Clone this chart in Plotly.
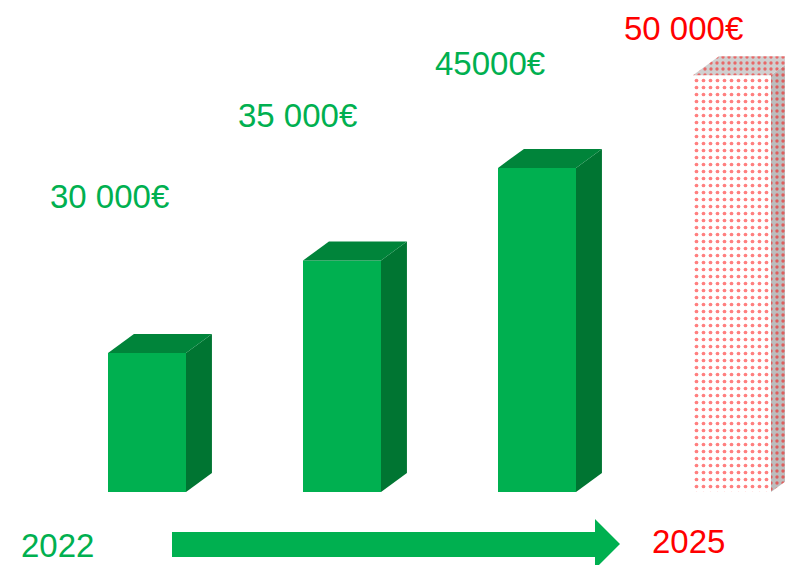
import plotly.graph_objects as go

# ---- data ----
years = ["2022", "2023", "2024", "2025"]
revenue_labels = ["30 000€", "35 000€", "45000€", "50 000€"]
bar_heights = [1.5, 2.5, 3.5, 4.5]      # visual bar heights
is_forecast = [False, False, False, True]

# ---- style ----
GREEN = "#00B050"
GREEN_TOP = "#00843A"
GREEN_SIDE = "#007532"
RED = "#FF0000"
FONT = "Liberation Sans"
W, H = 785, 565

xpos = list(range(len(years)))
bar_w = 0.4
dx, dy = 0.133, 0.205   # 3D depth offsets (data units)

fig = go.Figure()

# 3D side and top faces computed from the data
for i, (x, h, fc) in enumerate(zip(xpos, bar_heights, is_forecast)):
    xl, xr = x - bar_w / 2, x + bar_w / 2
    side_x = [xr, xr + dx, xr + dx, xr, xr]
    side_y = [0, dy, h + dy, h, 0]
    top_x = [xl, xl + dx, xr + dx, xr, xl]
    top_y = [h, h + dy, h + dy, h, h]
    if fc:
        fig.add_trace(go.Scatter(x=side_x, y=side_y, fill="toself", mode="lines",
                                 line=dict(width=0), fillcolor="#bdbdbd",
                                 fillpattern=dict(shape=".", fgcolor=RED, bgcolor="#bdbdbd",
                                                  size=6, solidity=0.25),
                                 hoverinfo="skip", showlegend=False))
        fig.add_trace(go.Scatter(x=top_x, y=top_y, fill="toself", mode="lines",
                                 line=dict(width=0), fillcolor="#d0d0d0",
                                 fillpattern=dict(shape=".", fgcolor=RED, bgcolor="#d0d0d0",
                                                  size=6, solidity=0.25),
                                 hoverinfo="skip", showlegend=False))
    else:
        fig.add_trace(go.Scatter(x=side_x, y=side_y, fill="toself", mode="lines",
                                 line=dict(width=0), fillcolor=GREEN_SIDE,
                                 hoverinfo="skip", showlegend=False))
        fig.add_trace(go.Scatter(x=top_x, y=top_y, fill="toself", mode="lines",
                                 line=dict(width=0), fillcolor=GREEN_TOP,
                                 hoverinfo="skip", showlegend=False))

# front faces
fig.add_trace(go.Bar(
    x=[x for x, f in zip(xpos, is_forecast) if not f],
    y=[h for h, f in zip(bar_heights, is_forecast) if not f],
    width=bar_w, marker=dict(color=GREEN, line=dict(width=0)),
    showlegend=False, hoverinfo="skip"))
fig.add_trace(go.Bar(
    x=[x for x, f in zip(xpos, is_forecast) if f],
    y=[h for h, f in zip(bar_heights, is_forecast) if f],
    width=bar_w,
    marker=dict(color="white", line=dict(width=0),
                pattern=dict(shape=".", fgcolor=RED, bgcolor="white", size=7, solidity=0.22)),
    showlegend=False, hoverinfo="skip"))

# value labels
label_y = [3.19, 4.07, 4.63, 5.01]
label_shift = [-38, -45, -47, -49]
for x, lab, ly, sh, fc in zip(xpos, revenue_labels, label_y, label_shift, is_forecast):
    fig.add_annotation(x=x, y=ly, text=lab, showarrow=False, xshift=sh,
                       xanchor="center", yanchor="middle",
                       font=dict(family=FONT, size=33, color=RED if fc else GREEN))

# year labels and arrow
fig.add_annotation(x=57 / W, y=1 - 545 / H, xref="paper", yref="paper", text=years[0],
                   showarrow=False, xanchor="center", yanchor="middle", borderpad=0,
                   font=dict(family=FONT, size=33, color=GREEN))
fig.add_annotation(x=688 / W, y=1 - 541 / H, xref="paper", yref="paper", text=years[-1],
                   showarrow=False, xanchor="center", yanchor="middle", borderpad=0,
                   font=dict(family=FONT, size=33, color=RED))

pts = [(172, 532), (595, 532), (595, 519), (620, 544), (595, 569), (595, 557), (172, 557)]
path = "M " + " L ".join(f"{px / W:.5f},{1 - py / H:.5f}" for px, py in pts) + " Z"
fig.add_shape(type="path", path=path, xref="paper", yref="paper",
              fillcolor=GREEN, line=dict(width=0))

fig.update_layout(
    width=W, height=H, margin=dict(l=0, r=0, t=0, b=0),
    paper_bgcolor="white", plot_bgcolor="white",
    barmode="overlay",
    xaxis=dict(range=[-147 / 195, (W - 147) / 195], visible=False, fixedrange=True),
    yaxis=dict(range=[-(H - 492) / 92.6, 492 / 92.6], visible=False, fixedrange=True),
)

fig.write_html("out.html", config={"displayModeBar": False},
               post_script="document.body.style.margin='0';document.body.style.overflow='hidden';")
